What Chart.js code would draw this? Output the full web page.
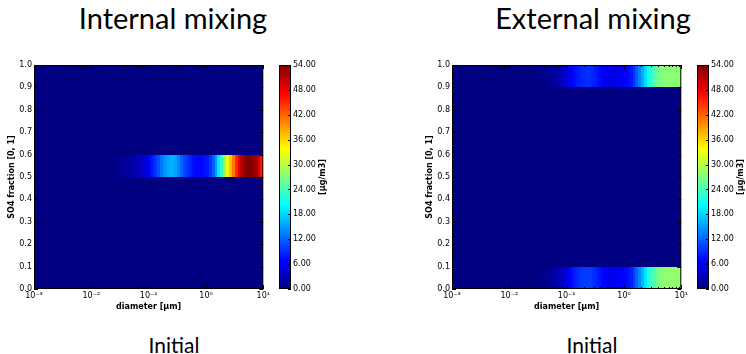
<!DOCTYPE html>
<html>
<head>
<meta charset="utf-8">
<script src="https://cdn.jsdelivr.net/npm/chart.js@4/dist/chart.umd.min.js"></script>
<style>
  body { margin: 0; background: #fff; width: 746px; height: 354px; position: relative; overflow: hidden; }
  canvas { position: absolute; }
  .title { position: absolute; width: 300px; text-align: center; color: #000; font-family: Lato, sans-serif; }
  .big { font-size: 29px; line-height: 29px; }
  .small { font-size: 21px; line-height: 21px; }
</style>
</head>
<body>
<div class="title big" style="left:23px;top:3px">Internal mixing</div>
<div class="title big" style="left:443px;top:3px">External mixing</div>
<div class="title small" style="left:24px;top:334px">Initial</div>
<div class="title small" style="left:442px;top:334px">Initial</div>

<canvas id="mapInt" width="272" height="270" style="left:0;top:50px"></canvas>
<canvas id="cbInt" width="60" height="270" style="left:270px;top:50px"></canvas>
<canvas id="mapExt" width="272" height="270" style="left:418px;top:50px"></canvas>
<canvas id="cbExt" width="60" height="270" style="left:688px;top:50px"></canvas>

<script>
// diameter bin edges [µm]; first bin covers 10^-3 .. 10^-1.6, then 20 bins per decade
const diamEdges = [0.001,
  0.0251, 0.0282, 0.0316, 0.0355, 0.0398, 0.0447, 0.0501, 0.0562, 0.0631, 0.0708, 0.0794, 0.0891,
  0.1, 0.112, 0.126, 0.141, 0.158, 0.178, 0.2, 0.224, 0.251, 0.282, 0.316, 0.355, 0.398, 0.447,
  0.501, 0.562, 0.631, 0.708, 0.794, 0.891, 1, 1.12, 1.26, 1.41, 1.58, 1.78, 2.0, 2.24, 2.51,
  2.82, 3.16, 3.55, 3.98, 4.47, 5.01, 5.62, 6.31, 7.08, 7.94, 8.91, 10];
// SO4 fraction row edges
const fracEdges = [0, 0.1, 0.2, 0.3, 0.4, 0.5, 0.6, 0.7, 0.8, 0.9, 1.0];

const xTicks = [0.001, 0.01, 0.1, 1, 10];
const xTickLabels = ['10\u207B\u00B3', '10\u207B\u00B2', '10\u207B\u00B9', '10\u2070', '10\u00B9'];
const cbTicks = [0, 6, 12, 18, 24, 30, 36, 42, 48, 54];
const vMax = 54;

// concentration [µg/m3] per diameter bin
const internalBand = [0,
  0.5, 0.8, 1.0, 1.2, 1.5, 1.8, 2.2, 2.6, 3.0, 3.6, 4.2, 5.5, 7, 8, 9.5, 11, 13, 14.5, 15.5, 16,
  16, 15.5, 14, 12, 10.5, 9.5, 8.5, 7.5, 7, 7, 7, 7.5, 8, 9.5, 12, 15, 19, 23, 28, 33,
  37, 41, 45, 48, 51, 53, 54, 54, 53, 52, 50, 46];
const externalTop = [0,
  0.2, 0.3, 0.4, 0.5, 0.7, 0.9, 1.2, 1.5, 2, 2.6, 3.3, 4.2, 5.2, 6.2, 7, 7.8, 8.4, 8.8, 9, 9.2,
  9, 8.6, 8, 7.2, 6.5, 6, 5.6, 5.4, 5.4, 5.6, 6, 6.3, 6.6, 7.2, 8, 9.5, 11.5, 13.5, 16, 18.5,
  21, 23, 24.5, 25.5, 26.5, 27, 27.5, 27.5, 27.5, 27.5, 27.5, 27.5];
const externalBottom = [0,
  0.2, 0.3, 0.4, 0.5, 0.7, 1.0, 1.3, 1.7, 2.2, 2.9, 3.7, 4.7, 5.8, 6.9, 7.8, 8.6, 9.3, 9.7, 10, 10,
  9.8, 9.3, 8.6, 7.8, 7, 6.4, 6, 5.8, 5.8, 6, 6.3, 6.6, 7, 7.6, 8.5, 10, 12, 14, 16.5, 19,
  21.5, 23.5, 25, 26, 27, 27.5, 28, 28, 28, 28, 28, 28];

// which fraction row holds which band
const internalRows = { 5: internalBand };
const externalRows = { 0: externalBottom, 9: externalTop };

Chart.defaults.font.family = 'DejaVu Sans';
Chart.defaults.font.size = 8;
Chart.defaults.color = '#000';

function clamp(v) { return Math.max(0, Math.min(1, v)); }

function jet(v) {
  const t = clamp(v / vMax);
  const r = clamp(Math.min(4 * t - 1.5, -4 * t + 4.5));
  const g = clamp(Math.min(4 * t - 0.5, -4 * t + 3.5));
  const b = clamp(Math.min(4 * t + 0.5, -4 * t + 2.5));
  return `rgb(${Math.round(r * 255)},${Math.round(g * 255)},${Math.round(b * 255)})`;
}

function heatmapPlugin(rows) {
  return {
    id: 'heatmap',
    beforeDatasetsDraw(chart) {
      const { ctx, scales: { x, y } } = chart;
      for (let r = 0; r < fracEdges.length - 1; r++) {
        const vals = rows[r];
        const y0 = Math.round(y.getPixelForValue(fracEdges[r + 1]));
        const y1 = Math.round(y.getPixelForValue(fracEdges[r]));
        for (let i = 0; i < diamEdges.length - 1; i++) {
          const x0 = Math.round(x.getPixelForValue(diamEdges[i]));
          const x1 = Math.round(x.getPixelForValue(diamEdges[i + 1]));
          ctx.fillStyle = jet(vals ? vals[i] : 0);
          ctx.fillRect(x0, y0, x1 - x0, y1 - y0);
        }
      }
    }
  };
}

// black frame plus inward ticks, matplotlib style
const framePlugin = {
  id: 'frame',
  afterDraw(chart) {
    const { ctx, chartArea: a, scales: { x, y } } = chart;
    ctx.save();
    ctx.strokeStyle = '#000';
    ctx.lineWidth = 1;
    ctx.strokeRect(a.left + 0.5, a.top + 0.5, a.width - 1, a.height - 1);
    ctx.beginPath();
    const xTick = (v, len) => {
      const px = Math.round(x.getPixelForValue(v)) + 0.5;
      ctx.moveTo(px, a.bottom); ctx.lineTo(px, a.bottom - len);
      ctx.moveTo(px, a.top); ctx.lineTo(px, a.top + len);
    };
    xTicks.forEach(v => xTick(v, 4));
    for (let d = 0.001; d < 10; d *= 10) {
      for (let k = 2; k < 10; k++) xTick(d * k, 2);
    }
    y.ticks.forEach(t => {
      const py = Math.round(y.getPixelForValue(t.value)) + 0.5;
      ctx.moveTo(a.left, py); ctx.lineTo(a.left + 4, py);
      ctx.moveTo(a.right, py); ctx.lineTo(a.right - 4, py);
    });
    ctx.stroke();
    ctx.restore();
  }
};

function makeMap(id, rows) {
  new Chart(document.getElementById(id), {
    type: 'scatter',
    data: { datasets: [] },
    options: {
      responsive: false,
      animation: false,
      devicePixelRatio: 1,
      layout: { padding: { left: 0, right: 7, top: 15, bottom: 0 } },
      plugins: { legend: { display: false }, tooltip: { enabled: false } },
      scales: {
        x: {
          type: 'logarithmic',
          min: 0.001,
          max: 10,
          afterBuildTicks: s => { s.ticks = xTicks.map(v => ({ value: v })); },
          afterFit: s => { s.height = 31; },
          grid: { display: false, drawTicks: false },
          border: { display: false },
          ticks: {
            autoSkip: false, maxRotation: 0, padding: 2,
            callback: (v, i) => xTickLabels[i]
          },
          title: {
            display: true, text: 'diameter [µm]',
            font: { weight: 'bold', size: 8 }, padding: { top: 0, bottom: 8 }
          }
        },
        y: {
          min: 0,
          max: 1,
          afterFit: s => { s.width = 34; },
          grid: { display: false, drawTicks: false },
          border: { display: false },
          ticks: { stepSize: 0.1, autoSkip: false, padding: 2, callback: v => v.toFixed(1) },
          title: {
            display: true, text: 'SO4 fraction [0, 1]',
            font: { weight: 'bold', size: 8 }, padding: { top: 7, bottom: 0 }
          }
        }
      }
    },
    plugins: [heatmapPlugin(rows), framePlugin]
  });
}

const colorbarPlugin = {
  id: 'colorbar',
  beforeDatasetsDraw(chart) {
    const { ctx, chartArea: a, scales: { y } } = chart;
    for (let py = Math.floor(a.top); py < a.bottom; py++) {
      ctx.fillStyle = jet(y.getValueForPixel(py + 0.5));
      ctx.fillRect(a.left, py, a.width, 1);
    }
  },
  afterDraw(chart) {
    const { ctx, chartArea: a, scales: { y } } = chart;
    ctx.save();
    ctx.strokeStyle = '#000';
    ctx.lineWidth = 1;
    ctx.strokeRect(a.left + 0.5, a.top + 0.5, a.width - 1, a.height - 1);
    ctx.beginPath();
    cbTicks.forEach(v => {
      const py = Math.round(y.getPixelForValue(v)) + 0.5;
      ctx.moveTo(a.right, py); ctx.lineTo(a.right - 3, py);
    });
    ctx.stroke();
    ctx.translate(53, (a.top + a.bottom) / 2);
    ctx.rotate(-Math.PI / 2);
    ctx.font = 'bold 8px "DejaVu Sans"';
    ctx.fillStyle = '#000';
    ctx.textAlign = 'center';
    ctx.textBaseline = 'middle';
    ctx.fillText('[µg/m3]', 0, 0);
    ctx.restore();
  }
};

function makeColorbar(id) {
  new Chart(document.getElementById(id), {
    type: 'scatter',
    data: { datasets: [] },
    options: {
      responsive: false,
      animation: false,
      devicePixelRatio: 1,
      layout: { padding: { left: 9, right: 0, top: 15, bottom: 31 } },
      plugins: { legend: { display: false }, tooltip: { enabled: false } },
      scales: {
        x: { display: false, min: 0, max: 1 },
        y: {
          position: 'right',
          min: 0,
          max: vMax,
          afterBuildTicks: s => { s.ticks = cbTicks.map(v => ({ value: v })); },
          afterFit: s => { s.width = 39; },
          grid: { display: false, drawTicks: false },
          border: { display: false },
          ticks: { autoSkip: false, padding: 2, callback: v => v.toFixed(2) }
        }
      }
    },
    plugins: [colorbarPlugin]
  });
}

makeMap('mapInt', internalRows);
makeColorbar('cbInt');
makeMap('mapExt', externalRows);
makeColorbar('cbExt');
</script>
</body>
</html>
